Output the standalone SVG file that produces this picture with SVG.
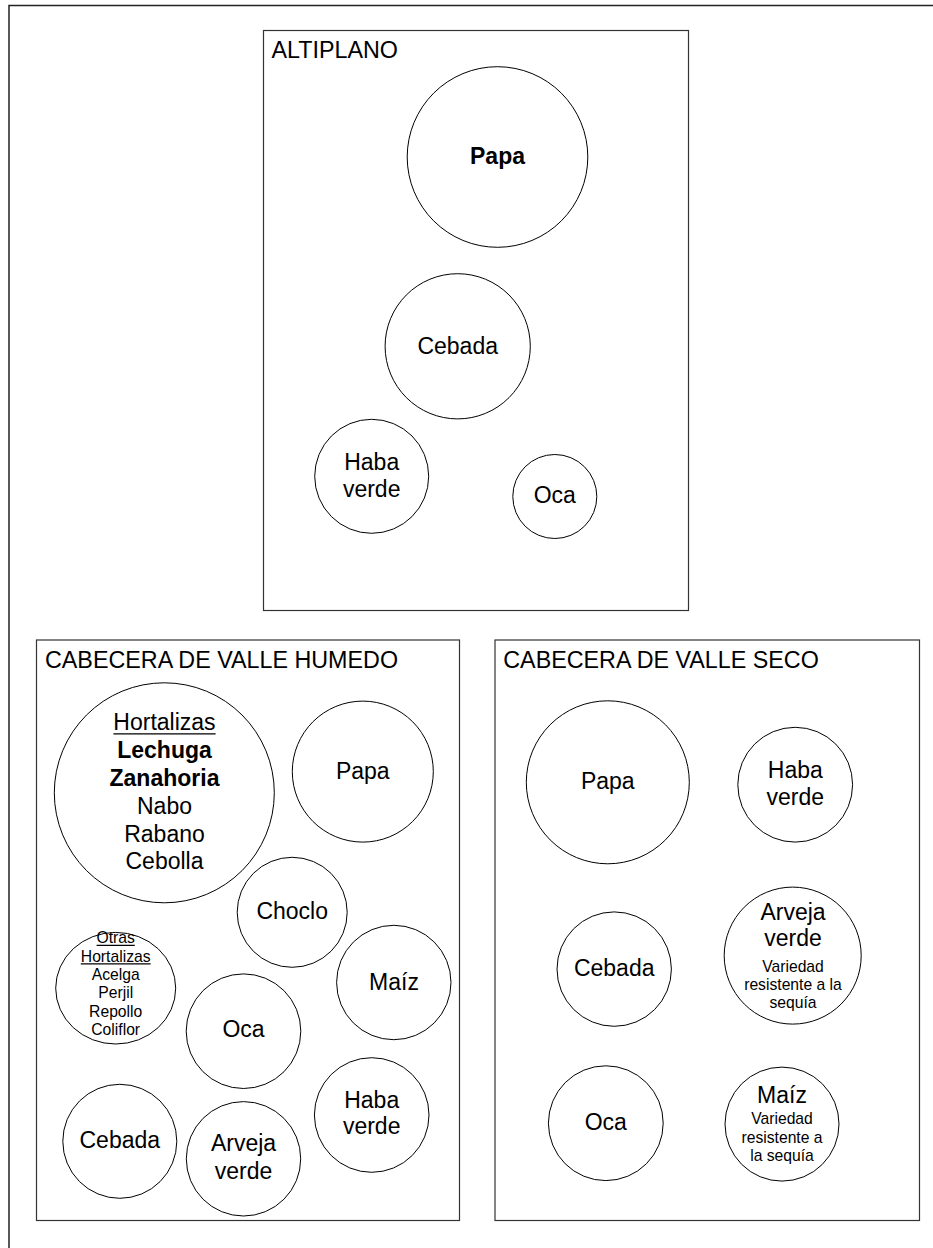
<svg xmlns="http://www.w3.org/2000/svg" width="933" height="1248" viewBox="0 0 933 1248">
<style>
.frame{fill:none;stroke:#222;stroke-width:1.5}
.zone{fill:#fff;stroke:#333;stroke-width:1.2}
.c{fill:#fff;stroke:#000;stroke-width:1}
text{font-family:"Liberation Sans",Arial,sans-serif;fill:#000}
.t{font-size:23.3px}
.l{font-size:23px;text-anchor:middle}
.b{font-weight:bold}
.s{font-size:15.7px;text-anchor:middle}
.u{stroke:#000;stroke-width:1.2}
</style>
<rect width="933" height="1248" fill="#fff"/>
<path class="frame" d="M9,1248 V5.5 H933"/>

<g id="altiplano">
<rect class="zone" x="263.5" y="30.5" width="425" height="580"/>
<text class="t" x="271.5" y="58.3">ALTIPLANO</text>
</g>
<g id="alt-papa"><circle class="c" cx="497.5" cy="157" r="90.3"/><text class="l b" x="497.5" y="164">Papa</text></g>
<g id="alt-cebada"><circle class="c" cx="457.7" cy="346.3" r="72.6"/><text class="l" x="457.7" y="354">Cebada</text></g>
<g id="alt-haba"><circle class="c" cx="371.7" cy="476.3" r="57"/><text class="l" x="371.7" y="469.7">Haba</text><text class="l" x="371.7" y="496.5">verde</text></g>
<g id="alt-oca"><circle class="c" cx="554.8" cy="496.5" r="42"/><text class="l" x="554.8" y="503">Oca</text></g>

<g id="humedo">
<rect class="zone" x="36.5" y="640" width="423" height="580.5"/>
<text class="t" x="45" y="667.7">CABECERA DE VALLE HUMEDO</text>
</g>
<g id="hum-hortalizas"><circle class="c" cx="164.3" cy="792.8" r="110"/>
<text class="l" x="164.5" y="730.4">Hortalizas</text>
<line class="u" x1="113.4" y1="733.8" x2="215.6" y2="733.8"/>
<text class="l b" x="164.5" y="758.4">Lechuga</text>
<text class="l b" x="164.5" y="785.8">Zanahoria</text>
<text class="l" x="164.5" y="814">Nabo</text>
<text class="l" x="164.5" y="842">Rabano</text>
<text class="l" x="164.5" y="869.3">Cebolla</text></g>
<g id="hum-papa"><circle class="c" cx="362.8" cy="771.6" r="70.5"/><text class="l" x="362.8" y="779">Papa</text></g>
<g id="hum-choclo"><circle class="c" cx="292.2" cy="912.3" r="55"/><text class="l" x="292.2" y="919">Choclo</text></g>
<g id="hum-otras"><ellipse class="c" cx="115.7" cy="988.2" rx="60" ry="55.8"/>
<text class="s" x="115.7" y="943.3">Otras</text>
<line class="u" x1="96.6" y1="945.3" x2="134.8" y2="945.3"/>
<text class="s" x="115.7" y="961.5">Hortalizas</text>
<line class="u" x1="80.8" y1="963.8" x2="150.6" y2="963.8"/>
<text class="s" x="115.7" y="980">Acelga</text>
<text class="s" x="115.7" y="998.3">Perjil</text>
<text class="s" x="115.7" y="1016.7">Repollo</text>
<text class="s" x="115.7" y="1034.5">Coliflor</text></g>
<g id="hum-maiz"><circle class="c" cx="393.8" cy="982.5" r="57.2"/><text class="l" x="394" y="990">Maíz</text></g>
<g id="hum-oca"><circle class="c" cx="243.5" cy="1031.2" r="57.3"/><text class="l" x="243.5" y="1037.4">Oca</text></g>
<g id="hum-cebada"><circle class="c" cx="119.8" cy="1141.3" r="57"/><text class="l" x="119.8" y="1147.5">Cebada</text></g>
<g id="hum-arveja"><circle class="c" cx="243.5" cy="1158.8" r="57.2"/><text class="l" x="243.5" y="1151.4">Arveja</text><text class="l" x="243.5" y="1178.6">verde</text></g>
<g id="hum-haba"><circle class="c" cx="371.7" cy="1115" r="57.3"/><text class="l" x="371.7" y="1107.8">Haba</text><text class="l" x="371.7" y="1134.3">verde</text></g>

<g id="seco">
<rect class="zone" x="495" y="640" width="424.5" height="580.5"/>
<text class="t" x="503.3" y="667.7">CABECERA DE VALLE SECO</text>
</g>
<g id="seco-papa"><circle class="c" cx="607.8" cy="782.3" r="81.5"/><text class="l" x="607.8" y="788.8">Papa</text></g>
<g id="seco-haba"><circle class="c" cx="795.2" cy="784.7" r="57.4"/><text class="l" x="795.3" y="777.9">Haba</text><text class="l" x="795.3" y="805.1">verde</text></g>
<g id="seco-cebada"><circle class="c" cx="614.2" cy="969.1" r="57.2"/><text class="l" x="614.2" y="976.3">Cebada</text></g>
<g id="seco-arveja"><circle class="c" cx="792.7" cy="955.6" r="68.5"/>
<text class="l" x="793" y="920.3">Arveja</text>
<text class="l" x="793" y="945.5">verde</text>
<text class="s" x="793" y="971.5">Variedad</text>
<text class="s" x="793" y="990">resistente a la</text>
<text class="s" x="793" y="1007.6">sequía</text></g>
<g id="seco-oca"><circle class="c" cx="605.8" cy="1123.2" r="57.4"/><text class="l" x="605.8" y="1130">Oca</text></g>
<g id="seco-maiz"><circle class="c" cx="782" cy="1124.1" r="57"/>
<text class="l" x="782" y="1102.8">Maíz</text>
<text class="s" x="782" y="1124.2">Variedad</text>
<text class="s" x="782" y="1142.5">resistente a</text>
<text class="s" x="782" y="1161.1">la sequía</text></g>

<g id="connectors"/>
</svg>
